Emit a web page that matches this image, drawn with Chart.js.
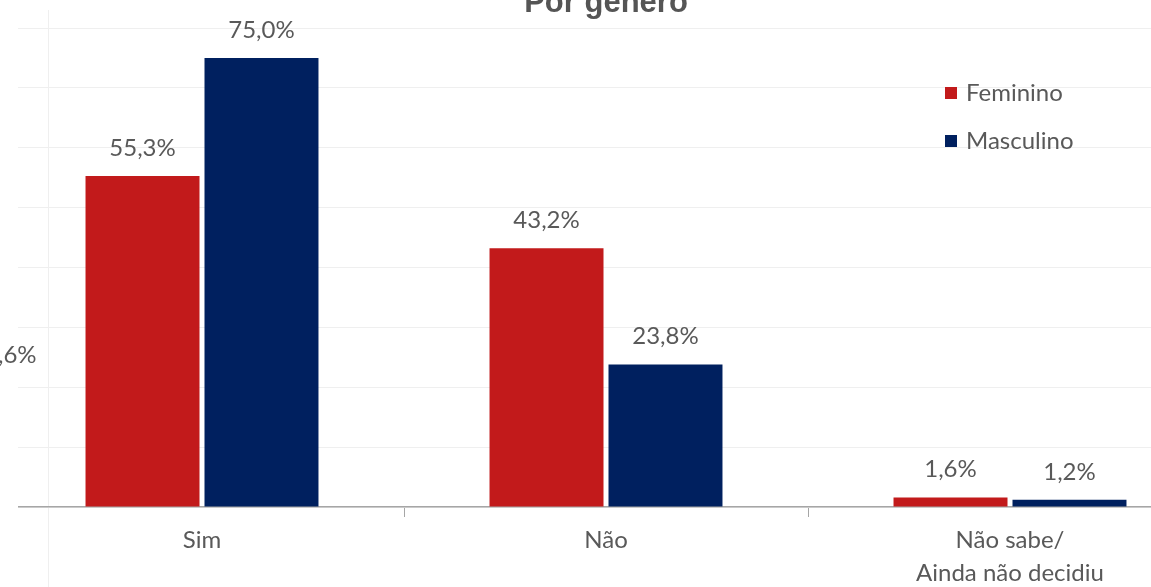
<!DOCTYPE html>
<html>
<head>
<meta charset="utf-8">
<script src="https://cdn.jsdelivr.net/npm/chart.js@4.4.0/dist/chart.umd.min.js"></script>
<style>
  html, body { margin: 0; padding: 0; background: #fff; overflow: hidden; }
  body { width: 1151px; height: 587px; position: relative; }
  #wrap { position: absolute; left: 0; top: -40px; width: 1212px; height: 637px; }
  #vline { position: absolute; left: 48px; top: 10px; width: 1px; height: 577px; background: #efefef; }
  #cover { position: absolute; left: 0; top: 20px; width: 18px; height: 500px; background: #fff; }
  #stray { position: absolute; left: -2px; top: 339px; font: 24px Lato, sans-serif; color: #595959; }
</style>
</head>
<body>
<div id="vline"></div>
<div id="wrap"><canvas id="myChart"></canvas></div>
<div id="cover"></div>
<div id="stray">,6%</div>
<script>
const categories = ["Sim", "Não", ["Não sabe/", "Ainda não decidiu"]];
const seriesNames = ["Feminino", "Masculino"];
const feminino = [55.3, 43.2, 1.6];
const masculino = [75.0, 23.8, 1.2];
const yTicks = [0, 10, 20, 30, 40, 50, 60, 70, 80];

const RED = "#C21A1B";
const NAVY = "#00205F";
const TEXT = "#595959";
const FONT = "Lato, 'Open Sans', sans-serif";

const chartCtx = document.getElementById("myChart").getContext("2d");

// percent labels above each bar
const barLabels = {
  id: "barLabels",
  afterDatasetsDraw(chart) {
    const ctx = chart.ctx;
    ctx.save();
    ctx.font = "24px " + FONT;
    ctx.fillStyle = TEXT;
    ctx.textAlign = "center";
    ctx.textBaseline = "middle";
    chart.data.datasets.forEach((ds, i) => {
      chart.getDatasetMeta(i).data.forEach((bar, j) => {
        const txt = ds.data[j].toFixed(1).replace(".", ",") + "%";
        ctx.fillText(txt, bar.x, bar.y - 28);
      });
    });
    ctx.restore();
  },
};

// legend in the upper right of the plot
const sideLegend = {
  id: "sideLegend",
  afterDraw(chart) {
    const ctx = chart.ctx;
    ctx.save();
    ctx.font = "24px " + FONT;
    ctx.textBaseline = "middle";
    chart.data.datasets.forEach((ds, i) => {
      const y = 133 + i * 48;
      ctx.fillStyle = ds.backgroundColor;
      ctx.fillRect(945, y - 6, 12, 12);
      ctx.fillStyle = TEXT;
      ctx.fillText(ds.label, 966, y);
    });
    ctx.restore();
  },
};

new Chart(chartCtx, {
  type: "bar",
  data: {
    labels: categories,
    datasets: [
      { label: seriesNames[0], data: feminino, backgroundColor: RED },
      { label: seriesNames[1], data: masculino, backgroundColor: NAVY },
    ],
  },
  options: {
    responsive: true,
    maintainAspectRatio: false,
    animation: false,
    datasets: { bar: { categoryPercentage: 0.589, barPercentage: 0.958 } },
    layout: { padding: 0 },
    plugins: {
      legend: { display: false },
      tooltip: { enabled: false },
      title: {
        display: true,
        text: "Por gênero",
        color: "#555555",
        font: { family: "'Liberation Sans', Arial, sans-serif", size: 31, weight: "bold", lineHeight: 1.2 },
        padding: { top: 25, bottom: 5.8 },
      },
    },
    scales: {
      x: {
        grid: {
          drawOnChartArea: false,
          drawTicks: true,
          tickLength: 10,
          tickColor: (c) => (c.index === 0 ? "rgba(0,0,0,0)" : "#A6A6A6"),
        },
        border: { display: true, color: "#A6A6A6", width: 1.5 },
        ticks: {
          color: TEXT,
          padding: 7,
          font: { family: FONT, size: 24, lineHeight: 1.375 },
        },
      },
      y: {
        min: 0,
        max: 80,
        afterBuildTicks: (axis) => {
          axis.ticks = yTicks.map((v) => ({ value: v }));
        },
        grid: { color: "#EFEFEF", drawTicks: false },
        border: { display: false },
        ticks: { display: false },
      },
    },
  },
  plugins: [barLabels, sideLegend],
});
</script>
</body>
</html>
